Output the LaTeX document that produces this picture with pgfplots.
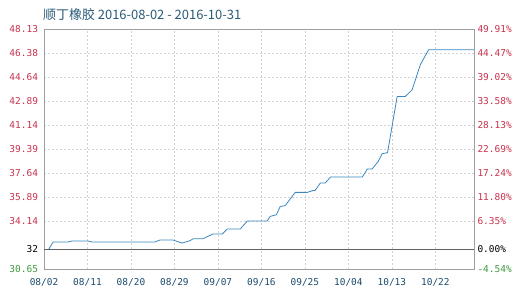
\documentclass[border=0pt]{standalone}
\usepackage{pgfplots}
\pgfplotsset{compat=1.18}
\usepackage{fontspec}
\setmainfont{DejaVu Sans}
\setmonofont{DejaVu Sans Mono}
\newfontfamily\cjk{Noto Sans CJK SC}
\definecolor{lblred}{HTML}{C8324B}
\definecolor{lblgrn}{HTML}{3E9A3E}
\definecolor{xlbl}{HTML}{1C4C6C}
\definecolor{titlecol}{HTML}{2A5A78}
\definecolor{linecol}{HTML}{3A87C0}
\begin{document}
\begin{tikzpicture}
\pgfplotsset{
  common/.style={
    at={(44bp,29bp)}, anchor=south west,
    scale only axis, width=430bp, height=240bp,
    xmin=0, xmax=89, ymin=30.65, ymax=48.13,
    major tick length=0pt,
    tick label style={font=\ttfamily\fontsize{9.5}{10}\selectfont},
    ytick={30.65,34.146,35.894,37.642,39.39,41.138,42.886,44.634,46.382,48.13},
  }
}
\begin{axis}[common,
  axis line style={draw=gray!75},
  xtick={0,9,18,27,36,45,54,63,72,81},
  xticklabels={08/02,08/11,08/20,08/29,09/07,09/16,09/25,10/04,10/13,10/22},
  xticklabel style={text=xlbl, yshift=-6bp},
  yticklabel style={xshift=-2.5bp},
  yticklabels={\textcolor{lblgrn}{30.65},\textcolor{lblred}{34.14},\textcolor{lblred}{35.89},\textcolor{lblred}{37.64},\textcolor{lblred}{39.39},\textcolor{lblred}{41.14},\textcolor{lblred}{42.89},\textcolor{lblred}{44.64},\textcolor{lblred}{46.38},\textcolor{lblred}{48.13}},
  xmajorgrids, ymajorgrids,
  major grid style={dash pattern=on 2bp off 2bp, draw=gray!35},
  extra y ticks={32.105},
  extra y tick labels={32},
  extra y tick style={ymajorgrids=true, major grid style={solid, draw=gray!75!black, line width=0.7bp}},
  ytick pos=left, xtick pos=bottom,
]
\addplot[color=linecol, line width=0.8bp] coordinates {
(1,32.10)(1.9,32.62)(5,32.62)(5.8,32.69)(9.1,32.69)(9.9,32.62)(23,32.62)(24,32.76)(26.7,32.76)(28.6,32.54)(30.2,32.71)(30.9,32.86)(32.9,32.86)(35,33.2)(36.9,33.2)(37.9,33.56)(40.6,33.56)(42.1,34.15)(46.2,34.15)(46.8,34.48)(48.1,34.6)(48.9,35.21)(49.9,35.26)(52,36.23)(54.5,36.23)(55.7,36.37)(56.1,36.37)(57.2,36.91)(58.2,36.91)(59.3,37.35)(65.9,37.35)(66.9,37.93)(67.9,37.93)(69.2,38.49)(70,39.05)(71.1,39.12)(73.1,43.22)(74.8,43.22)(76.2,43.71)(77.9,45.53)(79.6,46.62)(89,46.62)
};
\end{axis}
\begin{axis}[common,
  axis x line=none,
  axis y line*=right,
  axis line style={draw=gray!75},
  yticklabels={\textcolor{lblgrn}{-4.54\%},\textcolor{lblred}{6.35\%},\textcolor{lblred}{11.80\%},\textcolor{lblred}{17.24\%},\textcolor{lblred}{22.69\%},\textcolor{lblred}{28.13\%},\textcolor{lblred}{33.58\%},\textcolor{lblred}{39.02\%},\textcolor{lblred}{44.47\%},\textcolor{lblred}{49.91\%}},
  extra y ticks={32.105},
  extra y tick labels={0.00\%},
]
\end{axis}
\node[anchor=west, text=titlecol, font=\cjk\fontsize{13}{15}\selectfont, inner sep=0pt] at (43bp,283bp) {顺丁橡胶 2016-08-02 - 2016-10-31};
\pgfresetboundingbox
\path (0,0) rectangle (520bp,298bp);
\end{tikzpicture}
\end{document}
